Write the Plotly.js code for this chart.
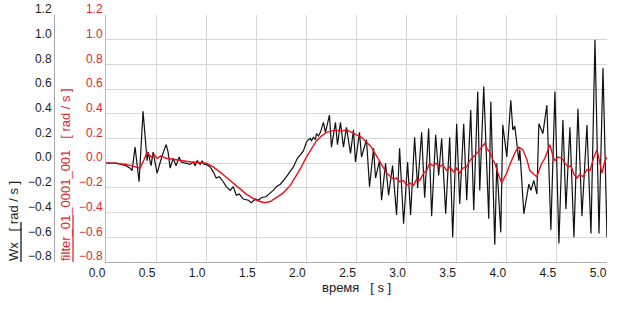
<!DOCTYPE html>
<html>
<head>
<meta charset="utf-8">
<script src="https://cdn.plot.ly/plotly-3.0.1.min.js"></script>
<style>html,body{margin:0;padding:0;background:#fff;}#chart{width:623px;height:312px;}</style>
</head>
<body>
<div id="chart"></div>
<script>
// ---- data ----
const timeWx = [0.00,0.10,0.20,0.24,0.26,0.29,0.33,0.37,0.41,0.42,0.45,0.47,0.51,0.56,0.60,0.62,0.64,0.67,0.70,0.73,0.75,0.80,0.84,0.87,0.89,0.91,0.94,0.96,0.98,1.00,
1.04,1.07,1.10,1.13,1.17,1.20,1.24,1.27,1.30,1.33,1.37,1.42,1.45,1.49,1.52,1.55,1.60,1.64,1.67,1.70,1.74,1.80,1.84,1.87,1.91,1.94,1.97,2.00,
2.02,2.04,2.05,2.07,2.09,2.10,2.12,2.14,2.17,2.19,2.23,2.25,2.29,2.31,2.34,2.37,2.40,2.44,2.47,2.49,2.53,2.55,2.60,2.63,2.67,2.69,2.73,2.75,2.79,2.82,2.86,2.90,2.93,2.97,
3.01,3.04,3.08,3.11,3.15,3.18,3.22,3.25,3.29,3.32,3.35,3.39,3.43,3.46,3.50,3.53,3.57,3.60,3.64,3.67,3.71,3.73,3.77,3.82,3.84,3.88,3.90,3.94,3.96,
4.00,4.04,4.06,4.08,4.12,4.13,4.17,4.20,4.22,4.24,4.27,4.30,4.32,4.36,4.40,4.44,4.48,4.52,4.56,4.59,4.63,4.67,4.71,4.75,4.80,4.84,4.88,4.92,4.96,5.00];
const wx = [0,0,-0.02,-0.04,-0.06,0.13,-0.15,0.42,0.02,0.09,-0.02,0.09,-0.08,0.06,0.15,0.09,-0.04,0.04,-0.02,0.05,0.01,0.00,-0.01,0.01,-0.02,0.02,-0.01,0.02,-0.01,-0.01,
-0.03,-0.07,-0.12,-0.11,-0.15,-0.19,-0.22,-0.19,-0.26,-0.25,-0.29,-0.30,-0.32,-0.29,-0.30,-0.28,-0.27,-0.24,-0.22,-0.19,-0.17,-0.11,-0.06,-0.03,0.04,0.07,0.10,0.17,
0.19,0.20,0.18,0.21,0.19,0.24,0.22,0.25,0.33,0.25,0.39,0.13,0.33,0.15,0.33,0.13,0.29,0.08,0.27,0.01,0.25,0.05,0.19,-0.19,0.12,-0.12,0.02,-0.30,0.00,-0.26,-0.02,-0.42,0.12,-0.49,
0.01,-0.42,0.21,-0.20,0.25,-0.28,0.28,-0.43,0.23,-0.10,0.20,-0.41,0.21,-0.60,0.32,-0.33,0.32,-0.30,0.43,-0.38,0.58,-0.22,0.62,-0.45,0.50,-0.66,0.00,-0.56,0.31,
0.05,0.51,0.27,0.30,0.02,0.11,-0.41,-0.25,-0.17,-0.22,-0.14,-0.25,0.32,0.24,0.47,-0.54,0.58,-0.65,0.35,-0.37,0.29,-0.60,0.44,-0.43,0.31,-0.57,1.00,-0.57,0.77,-0.60];

const timeFilter = [0,0.10,0.20,0.29,0.34,0.38,0.41,0.45,0.48,0.51,0.55,0.60,0.67,0.74,0.85,1.00,1.07,1.15,1.24,1.32,1.40,1.50,1.58,1.64,1.70,1.77,1.84,1.90,1.95,
2.00,2.05,2.10,2.15,2.20,2.25,2.30,2.35,2.40,2.45,2.50,2.55,2.60,2.64,2.67,2.70,2.73,2.77,2.80,2.84,2.87,2.90,2.93,2.97,
3.00,3.03,3.07,3.10,3.13,3.17,3.20,3.23,3.26,3.29,3.33,3.36,3.40,3.43,3.47,3.50,3.53,3.56,3.60,3.63,3.67,3.70,3.73,3.76,3.78,3.80,3.83,3.86,3.88,3.92,3.95,3.98,
4.00,4.03,4.06,4.09,4.12,4.14,4.16,4.20,4.23,4.27,4.30,4.33,4.35,4.38,4.40,4.43,4.46,4.48,4.51,4.55,4.58,4.61,4.64,4.67,4.70,4.73,4.76,4.80,4.83,4.87,4.90,4.93,4.95,4.98,5.00];
const filterVals = [0,0,-0.01,-0.03,-0.04,0.03,0.09,0.05,0.07,0.04,0.06,0.04,0.03,0.02,0.01,0.00,-0.03,-0.08,-0.14,-0.20,-0.25,-0.30,-0.32,-0.31,-0.28,-0.24,-0.18,-0.10,-0.03,
0.05,0.12,0.18,0.22,0.25,0.26,0.27,0.26,0.27,0.25,0.23,0.21,0.17,0.14,0.10,0.06,0.01,-0.04,-0.08,-0.11,-0.13,-0.12,-0.15,-0.14,
-0.18,-0.16,-0.18,-0.13,-0.14,-0.08,-0.06,0.00,-0.02,0.00,-0.03,-0.01,-0.06,-0.03,-0.07,-0.04,-0.08,-0.04,-0.03,0.02,0.05,0.08,0.11,0.14,0.16,0.12,0.09,0.03,0.00,-0.10,-0.16,-0.11,
-0.08,-0.01,0.05,0.10,0.13,0.12,0.11,0.03,-0.06,-0.09,-0.11,-0.04,0.00,0.04,0.08,0.15,0.06,0.02,0.05,0.04,0.00,-0.03,-0.02,-0.09,-0.12,-0.09,-0.11,-0.05,-0.06,0.05,0.11,0.00,-0.08,0.02,0.05];

const yTickVals = [-0.8,-0.6,-0.4,-0.2,0.0,0.2,0.4,0.6,0.8,1.0,1.2];
const xTickVals = [0.0,0.5,1.0,1.5,2.0,2.5,3.0,3.5,4.0,4.5,5.0];
const wxTitle = 'Wx\u00a0\u00a0\u00a0[ rad / s ]';
const filterTitle = 'filter_01_0001_001\u00a0\u00a0\u00a0[ rad / s ]';
const xTitle = 'время\u00a0\u00a0\u00a0[ s ]';

// ---- chart ----
const W = 623, H = 312;
const mL = 0, mR = 16, mT = 15, mB = 50;
const pw = W - mL - mR, ph = H - mT - mB;
const px = v => v / pw;            // pixel -> paper x
const py = v => (H - mB - v) / ph; // pixel -> paper y

const FONT = 'Liberation Sans, Arial, sans-serif';
const RED = '#e3262c';
const BLK = '#1a1a1a';

const traces = [
  {x: timeWx, y: wx, type: 'scatter', mode: 'lines', yaxis: 'y', line: {color: '#111', width: 1.2}, name: 'Wx'},
  {x: timeFilter, y: filterVals, type: 'scatter', mode: 'lines', yaxis: 'y2', line: {color: '#e8101c', width: 1.4}, name: 'filter'}
];

const layout = {
  width: W, height: H,
  margin: {l: mL, r: mR, t: mT, b: mB, pad: 0},
  paper_bgcolor: '#fff', plot_bgcolor: '#fff',
  showlegend: false,
  font: {family: FONT, size: 12, color: BLK},
  xaxis: {
    domain: [px(106), 1], range: [0, 5], tickvals: xTickVals, tickformat: '.1f',
    showgrid: true, gridcolor: '#d6d6d6', gridwidth: 1, zeroline: false,
    showline: true, linecolor: '#b0b0b0', ticks: '', ticklabelshift: -9,
    tickfont: {family: FONT, size: 12, color: BLK}
  },
  yaxis: {
    range: [-0.8, 1.2], tickvals: yTickVals, tickformat: '.1f',
    anchor: 'free', position: px(54), side: 'left',
    showgrid: false, zeroline: false, showline: true, linecolor: '#a8a8a8',
    ticks: '', ticklabelshift: -6, tickfont: {family: FONT, size: 12, color: BLK}
  },
  yaxis2: {
    range: [-0.8, 1.2], tickvals: yTickVals, tickformat: '.1f',
    overlaying: 'y', anchor: 'x', side: 'left',
    showgrid: true, gridcolor: '#d6d6d6', zeroline: false, showline: true, linecolor: '#f3a3a3',
    ticks: '', ticklabelshift: -6, tickfont: {family: FONT, size: 12, color: RED}
  },
  annotations: [
    {text: xTitle, xref: 'x', x: 2.5, yref: 'paper', y: py(287), xanchor: 'center', yanchor: 'middle',
     showarrow: false, font: {family: FONT, size: 13, color: BLK}},
    {text: wxTitle, xref: 'paper', x: px(13), yref: 'paper', y: py(221), xanchor: 'center', yanchor: 'middle',
     textangle: -90, showarrow: false, font: {family: FONT, size: 13, color: BLK}},
    {text: filterTitle, xref: 'paper', x: px(65), yref: 'paper', y: py(175), xanchor: 'center', yanchor: 'middle',
     textangle: -90, showarrow: false, font: {family: FONT, size: 13, color: RED}}
  ],
  shapes: [
    {type: 'line', xref: 'paper', yref: 'paper', x0: px(21), x1: px(21), y0: py(222), y1: py(262), line: {color: BLK, width: 1.3}},
    {type: 'line', xref: 'paper', yref: 'paper', x0: px(73), x1: px(73), y0: py(215), y1: py(262), line: {color: RED, width: 1.3}}
  ]
};

Plotly.newPlot('chart', traces, layout, {staticPlot: true, displayModeBar: false});
</script>
</body>
</html>
